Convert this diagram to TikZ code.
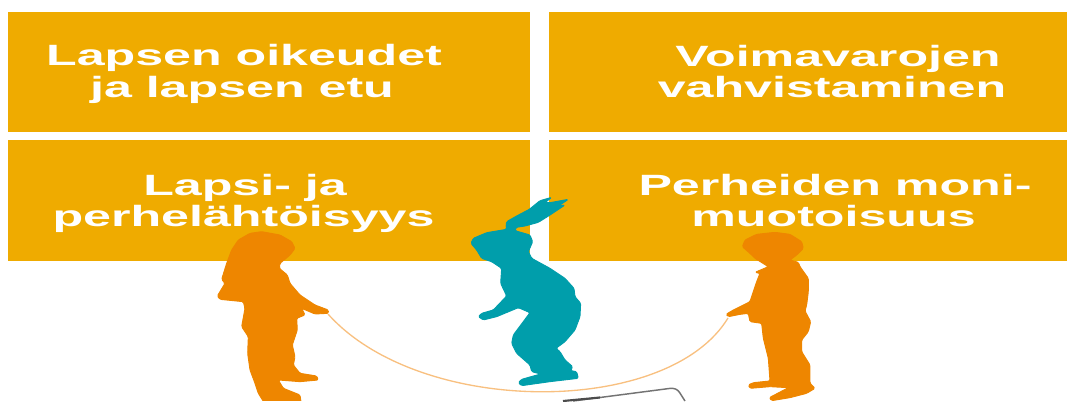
\documentclass[tikz,border=0pt]{standalone}
\usepackage{fontspec}
\setmainfont{Liberation Sans}
\definecolor{boxc}{HTML}{EFAB00}
\definecolor{kid}{HTML}{EE8600}
\definecolor{teal}{HTML}{009EAB}
\definecolor{rope}{HTML}{F8C080}
\tikzset{
 panel/.style={fill=boxc,draw=none},
 lab/.style={text=white,font=\fontsize{22}{26}\selectfont\bfseries,inner sep=0pt,xscale=1.71,anchor=base},
 sil/.style={scale=0.3333,rounded corners=1pt,line width=0.7pt,line join=round}
}
\begin{document}
\begin{tikzpicture}[x=0.75pt,y=-0.75pt]
\useasboundingbox (0,0) rectangle (1067,401);
\fill[panel] (8,12) rectangle (530,132);
\fill[panel] (549,12) rectangle (1067,132);
\fill[panel] (8,140) rectangle (530,261);
\fill[panel] (549,140) rectangle (1067,261);
\node[lab] (a1) at (244,65.5) {Lapsen oikeudet};
\node[lab] (a2) at (242,97) {ja lapsen etu};
\node[lab] (b1) at (838,66) {Voimavarojen};
\node[lab] (b2) at (832,97) {vahvistaminen};
\node[lab] (c1) at (245,195) {Lapsi- ja};
\node[lab] (c2) at (243.5,226) {perhelähtöisyys};
\node[lab] (d1) at (835,195) {Perheiden moni-};
\node[lab] (d2) at (833.5,226) {muotoisuus};
\coordinate (ropeL) at (328,314);
\coordinate (ropeR) at (728,318);
\draw[rope,line width=1pt] (ropeL) .. controls (420,417) and (668,417) .. (ropeR);
\draw[black!55,line width=1.1pt,rounded corners=2pt] (573,401) -- (673,388) -- (678,390) -- (685,401);
\draw[black!70,line width=1.6pt] (563,401) -- (600,397.5);
\begin{scope}[shift={(200,220)},sil]
\clip (0,0) rectangle (450,543);
\filldraw[fill=kid,draw=kid] (185,35)--(240,45)--(275,65)--(285,85)--(270,105)--(240,130)--(238,145)--(262,165)--(270,190)--(300,225)--(345,255)--(385,270)--(385,280)--(345,282)--(305,265)--(315,285)--(290,295)--(292,330)--(277,375)--(285,410)--(280,435)--(300,460)--(350,468)--(355,480)--(300,485)--(235,480)--(250,505)--(300,525)--(305,560)--(200,560)--(175,520)--(165,490)--(150,450)--(143,400)--(145,350)--(125,320)--(135,265)--(130,245)--(60,238)--(52,228)--(75,190)--(65,178)--(80,130)--(95,90)--(115,60)--(150,40)--cycle;
\end{scope}
\begin{scope}[shift={(450,190)},sil]
\filldraw[fill=teal,draw=teal] (170,95)--(200,78)--(238,58)--(270,32)--(305,22)--(285,38)--(300,38)--(355,28)--(325,48)--(345,45)--(300,75)--(265,97)--(225,108)--(198,112)--(195,122)--(240,135)--(248,155)--(235,185)--(245,205)--(300,235)--(345,265)--(372,295)--(375,320)--(392,340)--(390,380)--(375,420)--(345,455)--(318,475)--(330,485)--(345,510)--(368,530)--(362,542)--(380,545)--(385,565)--(300,575)--(215,587)--(205,578)--(215,568)--(272,552)--(245,545)--(240,525)--(200,490)--(185,460)--(190,435)--(240,368)--(205,353)--(140,380)--(100,390)--(85,380)--(95,370)--(130,360)--(170,318)--(152,280)--(155,235)--(125,215)--(95,205)--(80,180)--(63,160)--(70,145)--(110,128)--(170,118)--(168,105)--cycle;
\end{scope}
\begin{scope}[shift={(700,225)},sil]
\filldraw[fill=kid,draw=kid] (225,22)--(270,28)--(305,50)--(310,70)--(290,90)--(270,105)--(295,112)--(300,125)--(325,160)--(325,200)--(320,240)--(315,258)--(332,290)--(325,320)--(305,345)--(305,380)--(330,420)--(330,475)--(345,490)--(320,505)--(270,518)--(215,527)--(208,518)--(265,488)--(210,485)--(150,490)--(145,480)--(160,473)--(210,468)--(205,400)--(190,340)--(185,295)--(150,290)--(145,265)--(120,268)--(85,275)--(78,268)--(100,255)--(150,230)--(170,170)--(180,145)--(165,142)--(205,125)--(165,100)--(150,85)--(127,65)--(135,45)--(170,28)--cycle;
\end{scope}
\end{tikzpicture}
\end{document}
